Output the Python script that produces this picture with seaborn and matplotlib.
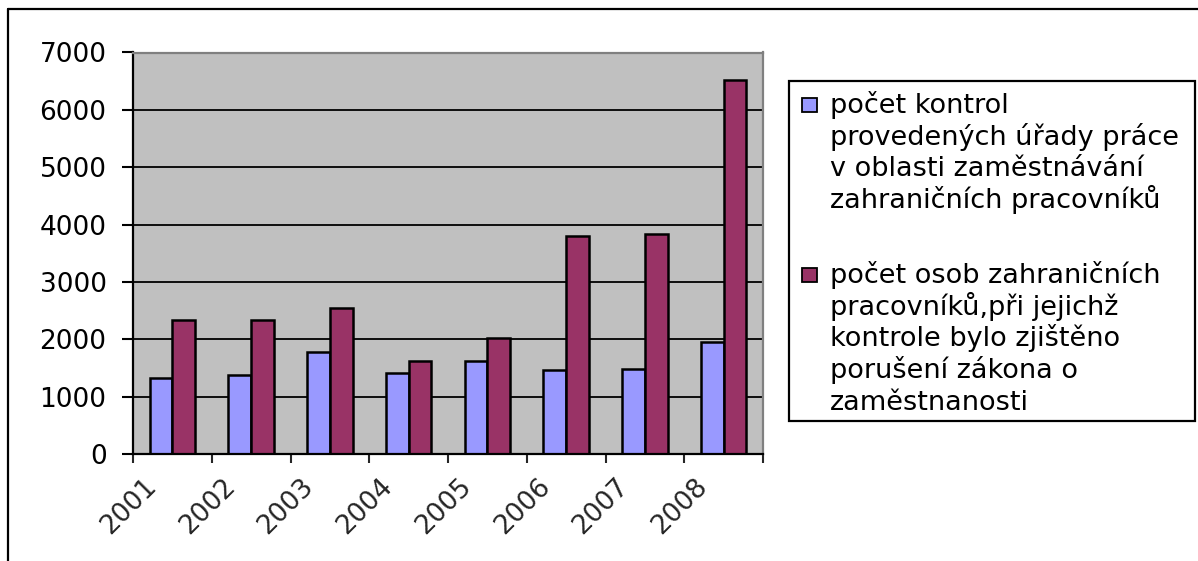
import matplotlib
matplotlib.use("Agg")
import matplotlib.pyplot as plt
import matplotlib.transforms as mtransforms
from matplotlib.patches import Rectangle
from matplotlib.lines import Line2D
import seaborn as sns
import pandas as pd

# ---- data ----
years = ["2001", "2002", "2003", "2004", "2005", "2006", "2007", "2008"]
kontroly = [1320, 1380, 1770, 1420, 1630, 1460, 1490, 1950]
porusena = [2330, 2330, 2540, 1630, 2020, 3800, 3840, 6520]
series_names = [
    "počet kontrol provedených úřady práce v oblasti zaměstnávání zahraničních pracovníků",
    "počet osob zahraničních pracovníků,při jejichž kontrole bylo zjištěno porušení zákona o zaměstnanosti",
]
legend_lines = [
    ["počet kontrol", "provedených úřady práce", "v oblasti zaměstnávání", "zahraničních pracovníků"],
    ["počet osob zahraničních", "pracovníků,při jejichž", "kontrole bylo zjištěno",
     "porušení zákona o", "zaměstnanosti"],
]
y_ticks = [0, 1000, 2000, 3000, 4000, 5000, 6000, 7000]
colors = ["#9999FF", "#993366"]

df = pd.DataFrame({
    "rok": years * 2,
    "pocet": kontroly + porusena,
    "serie": [series_names[0]] * len(years) + [series_names[1]] * len(years),
})

sns.set_style("white")
plt.rcParams["font.family"] = ["DejaVu Sans"]

W, H, DPI = 1198, 561, 100
fig = plt.figure(figsize=(W / DPI, H / DPI), dpi=DPI)
fig.patch.set_facecolor("white")

# axes placement (pixels -> figure fraction)
left_px, right_px, top_px, bot_px = 133, 763, 52.5, 454
ax = fig.add_axes([left_px / W, 1 - bot_px / H, (right_px - left_px) / W, (bot_px - top_px) / H])
ax.set_facecolor("#C0C0C0")

sns.barplot(data=df, x="rok", y="pocet", hue="serie", palette=colors,
            width=0.58, gap=0, saturation=1, edgecolor="black", linewidth=1.8,
            legend=False, ax=ax)

ax.set_xlim(-0.5, len(years) - 0.5)
ax.set_ylim(0, 7000)
ax.set_yticks(y_ticks)
ax.set_yticklabels([str(v) for v in y_ticks])
ax.set_xlabel("")
ax.set_ylabel("")

# grid
ax.set_axisbelow(True)
ax.yaxis.grid(True, color="black", linewidth=1.3)
ax.xaxis.grid(False)
ax.yaxis.get_gridlines()[-1].set_visible(False)

# spines
for s in ["left", "bottom"]:
    ax.spines[s].set_color("black")
    ax.spines[s].set_linewidth(1.6)
for s in ["top", "right"]:
    ax.spines[s].set_color("#808080")
    ax.spines[s].set_linewidth(1.6)
    ax.spines[s].set_visible(True)

# ticks
ax.tick_params(axis="y", direction="out", length=8, width=1.5, pad=11,
               labelsize=19, colors="black", left=True)
ax.set_xticks([i + 0.5 for i in range(-1, len(years))], minor=True)
ax.tick_params(axis="x", which="minor", direction="out", length=6.5, width=1.5, bottom=True)
ax.tick_params(axis="x", which="major", length=0, pad=21, labelsize=19)
offset = mtransforms.ScaledTranslation(-20 / DPI, 0, fig.dpi_scale_trans)
for lab in ax.get_xticklabels():
    lab.set_rotation(45)
    lab.set_ha("right")
    lab.set_va("center")
    lab.set_rotation_mode("anchor")
    lab.set_transform(lab.get_transform() + offset)

# outer frame (left and top edges visible)
fig.add_artist(Line2D([8 / W, 8 / W], [0, 1 - 9 / H], transform=fig.transFigure,
                      color="black", linewidth=1.6))
fig.add_artist(Line2D([8 / W, 1.0], [1 - 9 / H, 1 - 9 / H], transform=fig.transFigure,
                      color="black", linewidth=1.6))

# legend box
lx0, lx1, ly0, ly1 = 789, 1195, 80.7, 420.7
fig.add_artist(Rectangle((lx0 / W, 1 - ly1 / H), (lx1 - lx0) / W, (ly1 - ly0) / H,
                         transform=fig.transFigure, facecolor="white",
                         edgecolor="black", linewidth=1.6))
first_baselines = [113, 283]
line_step = 31.7
for k, lines in enumerate(legend_lines):
    b0 = first_baselines[k]
    fig.add_artist(Rectangle((802 / W, 1 - (b0 - 1) / H), 15 / W, 14.5 / H,
                             transform=fig.transFigure, facecolor=colors[k],
                             edgecolor="black", linewidth=1.3))
    for j, t in enumerate(lines):
        fig.text(830 / W, 1 - (b0 + j * line_step) / H, t, ha="left", va="baseline",
                 fontsize=19.5, color="black")

fig.savefig("out.png", dpi=DPI)
